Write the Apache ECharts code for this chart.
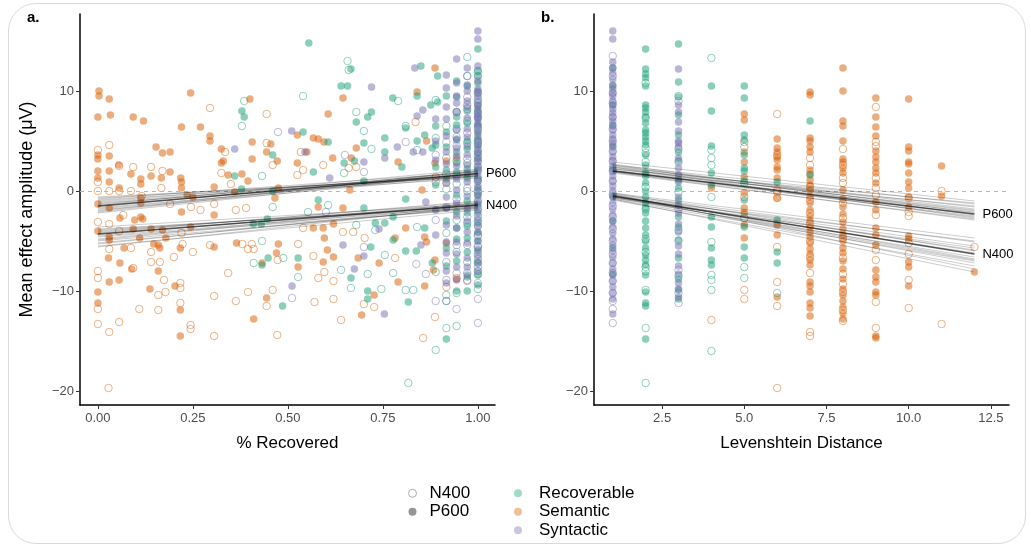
<!DOCTYPE html>
<html><head><meta charset="utf-8">
<script src="https://cdn.jsdelivr.net/npm/echarts@6/dist/echarts.min.js"></script>
<style>
html,body{margin:0;padding:0;background:#fff;}
#card{position:absolute;left:8px;top:3px;width:1018px;height:541px;border:1px solid #d6dbe2;border-radius:28px;box-sizing:border-box;}
#chart{position:absolute;left:0;top:0;width:1031px;height:548px;}
</style></head>
<body><div id="card"></div><div id="chart"></div>
<script>
// ---------------- DATA ----------------
const aXTicks = [0, 0.25, 0.5, 0.75, 1];
const bXTicks = [2.5, 5, 7.5, 10, 12.5];
const yTicks = [-20, -10, 0, 10];
const categories = ['Semantic', 'Recoverable', 'Syntactic'];

// Panel a: scattered points [% recovered, amplitude]
const a_P600_Semantic = [[0.003,10.0],[0.003,9.5],[0.03,9.2],[0.244,9.8],[0.40,9.2],[0.0,7.4],[0.033,7.6],[0.093,7.4],[0.12,7.0],[0.22,6.4],[0.27,6.4],[0.295,5.5],[0.295,5.0],[0.406,4.9],[0.153,4.4],[0.17,3.8],[0.19,3.9],[0.0,3.6],[0.03,3.5],[0.0,3.2],[0.055,2.6],[0.325,4.2],[0.33,3.0],[0.325,2.8],[0.406,3.2],[0.444,3.9],[0.455,4.7],[0.472,3.0],[0.0,2.0],[0.03,2.0],[0.087,1.7],[0.113,1.2],[0.14,1.5],[0.167,1.3],[0.19,1.9],[0.218,1.3],[0.22,0.9],[0.0,1.3],[0.03,0.9],[0.113,0.7],[0.343,1.6],[0.379,1.7],[0.395,1.0],[0.306,0.4],[0.056,0.3],[0.22,0.3],[0.235,-0.4],[0.25,-0.6],[0.36,-0.1],[0.475,0.3],[0.466,-0.7],[0.113,-0.7],
  [0.645,9.3],[0.606,7.7],[0.887,12.3],[0.84,9.9],[0.525,5.6],[0.567,5.3],[0.58,5.2],[0.595,4.9],[0.55,3.9],[0.525,2.8],[0.68,4.3],[0.618,3.3],[0.667,3.3],[0.79,2.9],[0.865,5.0],[0.887,2.8],[0.663,0.1],[0.853,0.1],
  [0.0,-1.3],[0.03,-1.7],[0.113,-1.2],[0.0,-4.0],[0.03,-4.6],[0.03,-4.9],[0.093,-3.8],[0.14,-3.8],[0.17,-3.9],[0.11,-4.7],[0.179,-4.7],[0.244,-3.6],[0.058,-2.7],[0.097,-2.9],[0.113,-2.6],[0.118,-2.8],[0.22,-2.1],[0.306,-2.4],[0.069,-5.7],[0.028,-6.7],[0.058,-7.2],[0.089,-7.8],[0.159,-8.0],[0.03,-9.1],[0.056,-8.9],[0.0,-10.1],[0.0,-11.2],[0.137,-9.8],[0.203,-9.5],[0.217,-11.9],[0.217,-14.5],[0.159,-5.4],[0.163,-5.7],[0.217,-5.7],[0.306,-5.6],[0.365,-5.2],[0.444,-10.7],[0.41,-12.8],[0.475,-5.3],[0.47,-6.2],[0.432,-7.2],[0.147,-5.3],
  [0.58,-1.6],[0.645,-1.7],[0.527,-7.6],[0.567,-3.7],[0.593,-3.7],[0.62,-3.3],[0.596,-4.7],[0.604,-5.9],[0.62,-6.6],[0.593,-7.1],[0.685,-6.7],[0.74,-7.2],[0.727,-10.4],[0.694,-12.4],[0.79,-9.1],[0.86,-9.5],[0.883,-7.9],[0.887,-6.9],[0.782,-4.7],[0.81,-3.7],[0.86,-4.6],[0.865,-5.1]];
const a_N400_Semantic = [[0.295,8.3],[0.444,7.7],[0.0,4.1],[0.03,4.6],[0.056,2.5],[0.093,2.4],[0.14,2.4],[0.17,2.0],[0.0,0.9],[0.03,0.0],[0.056,0.0],[0.087,0.0],[0.167,0.3],[0.335,3.9],[0.325,1.8],[0.444,4.8],[0.46,2.6],[0.35,0.7],[0.0,0.0],[0.115,-0.5],
  [0.534,3.9],[0.54,2.1],[0.593,2.6],[0.68,2.4],[0.66,2.3],[0.525,1.6],[0.836,6.9],
  [0.0,-3.1],[0.03,-3.3],[0.056,-4.0],[0.0,-8.0],[0.0,-8.7],[0.0,-11.8],[0.0,-13.3],[0.03,-14.1],[0.028,-19.7],[0.056,-13.1],[0.109,-11.8],[0.159,-11.9],[0.093,-7.7],[0.14,-7.1],[0.163,-7.1],[0.174,-8.9],[0.159,-10.4],[0.178,-10.1],[0.217,-9.2],[0.217,-9.7],[0.217,-11.2],[0.244,-13.4],[0.244,-13.8],[0.306,-14.5],[0.306,-10.5],[0.343,-8.2],[0.363,-11.0],[0.395,-10.1],[0.25,-6.1],[0.2,-6.6],[0.14,-6.1],[0.087,-5.7],[0.03,-5.8],[0.223,-5.3],[0.295,-5.4],[0.38,-5.3],[0.395,-5.8],[0.41,-5.8],[0.405,-5.3],[0.27,-1.9],[0.306,-1.3],[0.363,-1.9],[0.39,-1.7],[0.245,-1.6],[0.19,-1.3],[0.472,-14.4],[0.46,-9.9],[0.444,-11.5],[0.473,-6.9],[0.22,-4.2],[0.067,-2.4],
  [0.527,-5.3],[0.567,-6.5],[0.58,-8.7],[0.596,-8.1],[0.62,-9.0],[0.62,-10.8],[0.57,-11.1],[0.64,-12.9],[0.7,-11.3],[0.727,-11.6],[0.782,-6.7],[0.702,-4.7],[0.672,-4.1],[0.645,-4.1],[0.54,-3.7],[0.856,-14.7],[0.887,-12.6],[0.944,-8.7]];
const a_P600_Recoverable = [[0.379,8.0],[0.385,7.4],[0.36,1.5],[0.378,0.2],[0.46,3.6],[0.46,0.0],
  [0.555,14.8],[0.666,12.2],[0.64,10.5],[0.657,10.5],[0.85,12.5],[0.894,11.5],[0.776,9.3],[0.84,9.5],[0.876,8.6],[0.894,8.9],[0.71,7.4],[0.72,7.9],[0.68,6.9],[0.81,6.3],[0.755,5.3],[0.70,4.8],[0.648,2.8],[0.675,3.0],[0.606,4.9],[0.54,5.9],[0.567,1.9],[0.70,1.0],[0.755,3.9],[0.80,2.4],[0.84,5.0],[0.86,5.6],[0.88,4.3],
  [0.409,-3.3],[0.43,-3.3],[0.446,-2.8],[0.448,-6.7],[0.486,-11.5],[0.432,-7.4],
  [0.58,-0.9],[0.70,-1.7],[0.81,-0.8],[0.527,-6.7],[0.666,-8.7],[0.71,-10.0],[0.71,-10.8],[0.817,-11.1],[0.73,-3.2],[0.755,-3.2],[0.777,-2.6],[0.777,-4.9],[0.81,-6.0],[0.838,-6.0],[0.86,-3.7],[0.88,-7.2],[0.718,-5.6]];
const a_N400_Recoverable = [[0.385,9.0],[0.379,6.5],[0.432,1.5],
  [0.657,13.0],[0.66,12.1],[0.54,9.5],[0.68,7.9],[0.70,6.0],[0.79,9.0],[0.81,6.5],[0.72,4.2],[0.648,1.8],[0.84,4.1],
  [0.432,-5.0],[0.41,-7.2],[0.488,-6.7],[0.46,-1.6],
  [0.817,-19.2],[0.64,-7.9],[0.666,-9.7],[0.71,-8.3],[0.746,-9.8],[0.777,-8.2],[0.81,-9.9],[0.83,-9.9],[0.527,-8.6],[0.553,-2.1],[0.606,-1.4],[0.68,-3.4],[0.73,-3.9],[0.755,-6.4],[0.84,-3.6]];
const a_P600_Syntactic = [[0.36,4.2],[0.834,12.3],[0.72,10.4],[0.855,8.1],[0.84,7.5],[0.788,4.4],[0.755,3.3],[0.70,2.9],[0.61,1.3],[0.51,6.0],[0.545,3.9],[0.83,3.9],[0.855,3.9],[0.645,-5.4],[0.675,-7.8],[0.754,-12.3],[0.70,-6.5],[0.511,-9.5],[0.74,-3.8],[0.85,-5.4],[0.863,-1.1]];
const a_N400_Syntactic = [[0.474,5.9],[0.81,4.9],[0.70,1.9],[0.65,3.6],[0.511,-10.7],[0.6,-2.1],[0.70,-5.6],[0.838,-7.3],[0.863,-8.3]];

// Panel a: dense columns near full recovery (one y-list per column)
const aDenseX = [0.889, 0.917, 0.944, 0.972, 1.0];
const aDense_P600_Syntactic = [
  [7.2,5.0,3.1,-1.9,-4.4],
  [11.6,10.3,8.4,7.2,5.5,3.9,2.7,0.8,-0.6,-1.7,-3.4,-5.1,-6.2,-8.0,-9.2],
  [13.2,10.8,9.5,8.8,7.9,6.1,5.2,4.3,3.5,2.5,1.2,0.1,-1.2,-2.5,-3.7,-5.1,-6.3,-7.6,-8.9],
  [12.3,10.6,10.0,9.0,8.4,7.3,6.2,5.4,4.5,3.6,2.6,1.8,0.9,-0.5,-1.8,-3.0,-4.1,-5.2,-6.7,-7.6,-8.4],
  [16.0,15.2,12.5,11.0,10.2,9.8,9.5,9.0,8.5,8.2,7.8,7.5,7.2,6.8,6.5,6.0,5.5,5.0,4.6,4.2,3.8,3.3,2.9,2.5,2.0,1.5,1.0,0.5,0.0,-0.5,-1.0,-1.5,-2.0,-2.8,-3.5,-4.2,-5.0,-5.8,-6.5,-7.2,-8.0]];
const aDense_P600_Recoverable = [
  [6.5,4.6,2.4,0.6],
  [9.5,5.9,4.4,2.1,1.2,-3.0,-5.7,-7.5,-14.8],
  [11.0,9.4,7.4,6.6,5.1,3.9,2.8,1.9,-0.4,-2.1,-3.7,-4.8,-7.0,-10.0],
  [10.5,8.0,6.8,5.0,4.2,2.2,1.3,-1.0,-2.2,-3.5,-4.7,-6.1,-8.6,-10.0],
  [14.2,12.0,11.5,10.8,10.0,8.6,8.0,7.3,6.6,5.8,5.2,4.5,3.8,3.2,2.2,1.2,0.3,-0.4,-1.3,-2.2,-3.2,-4.1,-5.0,-6.0,-7.1,-8.4,-9.4]];
const aDense_N400_Syntactic = [
  [3.6,0.9,-2.9,-11.0],
  [4.9,1.7,-1.6,-7.1,-8.9,-11.0],
  [7.9,5.4,4.5,1.6,-0.8,-5.4,-8.2,-11.8],
  [11.5,9.4,8.2,5.8,3.2,0.3,-2.6,-5.4,-9.0],
  [11.5,9.8,8.8,7.4,6.2,5.0,4.0,3.0,2.0,1.0,0.0,-1.0,-2.5,-3.5,-4.5,-5.5,-6.3,-7.2,-8.0,-9.2,-10.8,-13.2]];
const aDense_N400_Recoverable = [
  [9.1,5.3,-8.1,-15.9],
  [6.5,3.3,0.2,-4.2,-10.4,-11.0,-13.7],
  [7.9,6.2,3.0,0.7,-2.9,-6.1,-10.2,-13.5],
  [13.4,11.5,8.6,7.0,4.8,2.8,0.0,-3.2,-7.1,-8.2],
  [12.0,9.2,7.8,6.4,4.8,3.5,2.4,1.2,-0.2,-1.8,-3.0,-4.4,-5.6,-6.8,-7.6,-8.3,-9.8]];
const aDense_P600_Semantic = [[],[3.0,-5.2],[3.3,-8.8],[],[]];
const aDense_N400_Semantic = [[1.4],[0.8,-9.6],[],[-8.9],[]];

// Panel b: Levenshtein distance columns 1..12 (one y-list per distance)
const bDist = [1,2,3,4,5,6,7,8,9,10,11,12];
const b_P600_Syntactic = [
  [16.0,15.2,12.9,12.3,11.8,11.2,10.6,10.2,9.8,9.5,9.0,8.6,8.2,7.8,7.4,7.0,6.5,6.1,5.6,5.2,4.8,4.4,3.9,3.4,3.0,2.5,2.0,1.5,1.0,0.5,0.0,-0.6,-1.2,-1.8,-2.4,-3.0,-3.6,-4.2,-4.8,-5.4,-6.0,-6.6,-7.2,-7.8,-8.4,-9.0,-9.6,-10.2,-10.8,-12.3],
  [],
  [12.2,8.6,7.9,6.9,6.0,5.0,4.8,4.4,3.3,2.3,1.6,0.9,-0.6,-1.4,-2.2,-3.3,-4.1,-5.5,-6.3,-7.5,-8.3,-9.2,-9.8,-10.6],
  [],[],[],[],[],[],[],[],[]];
const b_N400_Syntactic = [
  [13.5,11.5,9.8,8.8,7.4,6.2,5.0,4.0,3.0,2.0,1.0,-0.3,-1.5,-2.6,-3.8,-5.0,-6.3,-7.2,-8.2,-9.0,-10.2,-11.0,-11.8,-13.2],
  [],
  [9.0,2.9,-1.8,-5.0,-7.9,-10.2,-11.2],
  [],[],[],[],[],[],[],[],[]];
const b_P600_Recoverable = [
  [12.3,10.5,8.6,6.6,4.5,2.2,-0.5,-3.0,-5.7,-8.3],
  [14.2,12.2,11.7,11.3,10.5,8.6,8.3,7.9,7.4,6.8,6.1,5.8,5.4,5.0,4.6,3.6,2.6,1.8,1.5,0.8,0.0,-0.6,-1.2,-1.7,-2.2,-3.0,-3.7,-4.4,-5.0,-5.7,-6.4,-6.9,-7.4,-8.4,-10.1,-11.2,-11.5,-14.8],
  [14.7,10.9,9.4,7.6,5.6,3.9,3.0,1.1,0.3,-0.9,-2.6,-3.6,-4.9,-6.7,-8.8,-9.9,-10.8],
  [10.5,8.0,4.5,1.8,0.6,-2.6,-3.6,-5.7,-6.9,-7.4],
  [10.5,9.3,5.6,5.1,3.6,2.3,2.0,1.0,-0.9,-3.6,-5.6,-6.7],
  [0.9,-2.9,-6.1,-7.2],
  [7.0,1.6],
  [],[],[],[],[]];
const b_N400_Recoverable = [
  [],
  [10.8,7.3,4.3,3.8,2.9,0.4,-1.8,-4.8,-6.1,-7.6,-8.0,-9.9,-13.7,-19.2],
  [9.5,4.2,-0.1,-3.9,-8.5],
  [13.3,4.1,3.3,2.6,-0.6,-5.1,-8.4,-8.9,-9.9,-16.0],
  [4.4,0.8,-2.7,-7.6,-8.7],
  [-10.2],
  [],[],[],[],[],[]];
const b_P600_Semantic = [
  [],[],[],
  [0.3],
  [7.7,7.1,3.9,2.9,1.4,-0.2,-1.7,-2.2,-3.4,-4.7],
  [5.2,4.3,3.9,3.4,3.1,2.4,2.1,1.3,-0.7,-3.4,-4.4,-10.6],
  [9.9,9.6,5.3,5.0,4.4,3.9,2.1,1.7,1.1,0.6,0.1,-0.6,-1.2,-1.9,-2.5,-3.0,-3.6,-4.1,-4.6,-5.2,-5.8,-6.3,-6.9,-7.4,-9.1,-9.5,-10.1,-11.2,-11.7,-12.5],
  [12.3,10.0,7.0,6.5,5.0,3.2,2.9,2.3,1.8,0.1,-0.8,-1.6,-2.3,-3.1,-3.8,-4.4,-5.0,-5.7,-6.2,-7.0,-7.8,-8.8,-9.8,-10.4,-11.0,-11.6,-12.2,-12.8],
  [9.3,7.4,6.4,5.5,4.0,3.4,2.9,2.3,1.8,0.8,-1.1,-1.9,-3.7,-4.4,-5.4,-7.9,-8.6,-9.1,-10.1,-10.4,-14.5,-14.7],
  [9.2,4.4,4.0,2.9,2.7,1.8,0.9,0.3,-0.6,-1.6,-4.5,-4.8,-7.1,-7.6,-9.5],
  [2.5,-0.5],
  [-8.1]];
const b_N400_Semantic = [
  [],[],[],
  [-12.9],
  [4.9,-0.6,-9.9,-10.8],
  [7.7,3.6,0.1,-0.1,-0.7,-5.6,-9.1,-11.5,-19.7],
  [3.3,2.6,0.4,-0.9,-2.2,-3.3,-5.0,-6.6,-8.2,-14.1,-14.5],
  [4.2,2.6,1.3,0.8,-1.2,-2.7,-4.7,-6.7,-8.3,-9.3,-10.1,-11.9,-13.0],
  [8.4,4.9,4.5,1.3,0.3,-0.4,-2.4,-5.9,-6.9,-11.1,-13.7],
  [-0.7,-2.1,-2.5,-5.2,-6.3,-8.9,-11.7],
  [0.0,-13.3],
  [-5.6]];

// Fitted lines: [value at start of x-range, value at end]; first entry = main fit
const aLineX = [0, 1];
const a_P600_fits = [[-1.5,1.75],[-0.6,1.4],[-0.9,1.6],[-1.1,1.5],[-1.3,1.9],[-1.6,2.0],[-1.8,1.7],[-2.0,2.1],[-2.2,1.8],[-0.8,1.9],[-1.2,1.3],[-1.7,1.6],[-1.4,2.2],[-1.9,1.5],[-1.0,1.7],[-2.1,2.0],[-0.7,1.5]];
const a_N400_fits = [[-4.3,-1.4],[-3.6,-1.3],[-3.9,-1.5],[-4.1,-1.1],[-4.5,-1.6],[-4.8,-1.2],[-5.0,-1.7],[-5.3,-1.4],[-5.6,-1.5],[-3.8,-1.7],[-4.2,-1.0],[-4.6,-1.8],[-4.9,-1.3],[-5.2,-1.6],[-4.0,-1.4],[-4.4,-1.2],[-5.5,-1.9]];
const bLineX = [1, 12];
const b_P600_fits = [[2.0,-2.3],[2.9,-1.0],[2.6,-1.3],[2.4,-1.6],[2.2,-1.9],[2.0,-2.1],[1.9,-2.5],[1.8,-2.8],[2.1,-2.6],[2.3,-2.0],[2.5,-1.8],[2.7,-2.2],[1.9,-2.9],[2.2,-1.2],[2.0,-1.5],[2.4,-2.7],[2.6,-2.4]];
const b_N400_fits = [[-0.5,-6.3],[-0.2,-4.7],[-0.3,-5.1],[-0.4,-5.5],[-0.5,-5.9],[-0.6,-6.2],[-0.7,-6.6],[-0.8,-7.0],[-0.9,-7.5],[-0.4,-6.8],[-0.3,-7.8],[-0.6,-5.0],[-0.8,-8.1],[-0.5,-7.2],[-0.7,-5.7],[-0.2,-6.0],[-0.6,-6.9]];

// ---------------- STYLE / BUILD ----------------
const COLORS = {Recoverable:'#1b9e77', Semantic:'#d95f02', Syntactic:'#7570b3'};
function rgba(hex, a){const n=parseInt(hex.slice(1),16);return `rgba(${n>>16},${(n>>8)&255},${n&255},${a})`;}
const FONT = '"Liberation Sans", Arial, Helvetica, sans-serif';

function colsToPairs(xs, cols){const out=[];cols.forEach((ys,i)=>ys.forEach(y=>out.push([xs[i],y])));return out;}

function scatter(gi, data, cat, filled){
  const c = COLORS[cat];
  return {type:'scatter', xAxisIndex:gi, yAxisIndex:gi, data, symbol:'circle', symbolSize:7.5, silent:true, z:2,
    itemStyle: filled ? {color: rgba(c,0.64), borderWidth:0}
                      : {color:'rgba(255,255,255,0)', borderColor: rgba(c,0.6), borderWidth:1}};
}
function fitLines(gi, xs, fits, label){
  return fits.map((f,i)=>({type:'line', xAxisIndex:gi, yAxisIndex:gi, silent:true, symbol:'none', z: i===0?6:5,
    data:[[xs[0],f[0]],[xs[1],f[1]]],
    lineStyle: i===0 ? {color:'rgba(0,0,0,0.65)', width:1.3} : {color:'rgba(0,0,0,0.2)', width:1},
    endLabel: i===0 ? {show:true, formatter:label, distance:8, color:'#000', fontSize:13, fontFamily:FONT} : {show:false}
  }));
}
const minus = v => v<0 ? '\u2212'+Math.abs(v) : String(v);

const series = [];
const aSets = {
  N400:{Semantic:a_N400_Semantic.concat(colsToPairs(aDenseX,aDense_N400_Semantic)),
        Recoverable:a_N400_Recoverable.concat(colsToPairs(aDenseX,aDense_N400_Recoverable)),
        Syntactic:a_N400_Syntactic.concat(colsToPairs(aDenseX,aDense_N400_Syntactic))},
  P600:{Semantic:a_P600_Semantic.concat(colsToPairs(aDenseX,aDense_P600_Semantic)),
        Recoverable:a_P600_Recoverable.concat(colsToPairs(aDenseX,aDense_P600_Recoverable)),
        Syntactic:a_P600_Syntactic.concat(colsToPairs(aDenseX,aDense_P600_Syntactic))}
};
const bSets = {
  N400:{Semantic:colsToPairs(bDist,b_N400_Semantic), Recoverable:colsToPairs(bDist,b_N400_Recoverable), Syntactic:colsToPairs(bDist,b_N400_Syntactic)},
  P600:{Semantic:colsToPairs(bDist,b_P600_Semantic), Recoverable:colsToPairs(bDist,b_P600_Recoverable), Syntactic:colsToPairs(bDist,b_P600_Syntactic)}
};
[aSets,bSets].forEach((sets,gi)=>{
  series.push({type:'line', xAxisIndex:gi, yAxisIndex:gi, data:[], silent:true, z:1,
    markLine:{silent:true, symbol:['none','none'], label:{show:false}, animation:false,
      lineStyle:{type:[4,4], color:'#b8b8b8', width:1}, data:[{yAxis:0}]}});
  categories.forEach(cat=>{
    series.push(scatter(gi, sets.N400[cat], cat, false));
    series.push(scatter(gi, sets.P600[cat], cat, true));
  });
});
series.push(...fitLines(0, aLineX, a_N400_fits, 'N400'));
series.push(...fitLines(0, aLineX, a_P600_fits, 'P600'));
series.push(...fitLines(1, bLineX, b_N400_fits, 'N400'));
series.push(...fitLines(1, bLineX, b_P600_fits, 'P600'));
['N400','P600','Recoverable','Semantic','Syntactic'].forEach(n=>series.push({type:'scatter', name:n, data:[], xAxisIndex:0, yAxisIndex:0}));

function xAxis(gi, min, max, ticks, digits, name){
  return {type:'value', gridIndex:gi, min, max, name, nameLocation:'middle', nameGap:30,
    nameTextStyle:{color:'#000', fontSize:17, fontFamily:FONT},
    axisLine:{show:true, onZero:false, lineStyle:{color:'#000', width:1.5}},
    axisTick:{show:true, length:4, customValues:ticks, lineStyle:{color:'#333', width:1}},
    axisLabel:{customValues:ticks, formatter:v=>v.toFixed(digits), color:'#4d4d4d', fontSize:13, margin:7, fontFamily:FONT},
    splitLine:{show:false}};
}
function yAxis(gi, name){
  return {type:'value', gridIndex:gi, min:-21.4, max:17.7, name, nameLocation:'middle', nameGap:44,
    nameTextStyle:{color:'#000', fontSize:18, fontFamily:FONT},
    axisLine:{show:true, onZero:false, lineStyle:{color:'#000', width:1.5}},
    axisTick:{show:true, length:4, customValues:yTicks, lineStyle:{color:'#333', width:1}},
    axisLabel:{customValues:yTicks, formatter:minus, color:'#4d4d4d', fontSize:13, margin:6, fontFamily:FONT},
    splitLine:{show:false}};
}

const legendText = {color:'#000', fontSize:17, lineHeight:18.5, fontFamily:FONT};
const option = {
  animation:false,
  grid:[{left:80, top:14, width:415, height:391}, {left:594, top:14, width:415, height:391}],
  xAxis:[xAxis(0,-0.047,1.045,aXTicks,2,'% Recovered'), xAxis(1,0.43,13.05,bXTicks,1,'Levenshtein Distance')],
  yAxis:[yAxis(0,'Mean effect amplitude (\u03bcV)'), yAxis(1,'')],
  legend:[
    {orient:'vertical', left:408, top:484, itemWidth:8, itemHeight:8, itemGap:0, padding:0, selectedMode:false,
     textStyle:Object.assign({padding:[0,0,0,8]}, legendText),
     data:[{name:'N400', icon:'circle', itemStyle:{color:'#fff', borderColor:'#9a9a9a', borderWidth:1}},
           {name:'P600', icon:'circle', itemStyle:{color:'#7a7a7a', borderWidth:0}}]},
    {orient:'vertical', left:514, top:484, itemWidth:8, itemHeight:8, itemGap:0, padding:0, selectedMode:false,
     textStyle:Object.assign({padding:[0,0,0,12]}, legendText),
     data:categories.slice().sort().map(c=>({name:c, icon:'circle', itemStyle:{color:rgba(COLORS[c],0.5), borderWidth:0}}))}
  ],
  graphic:[
    {type:'text', left:27, top:10, style:{text:'a.', font:'bold 15px '+FONT, fill:'#000'}},
    {type:'text', left:541, top:10, style:{text:'b.', font:'bold 15px '+FONT, fill:'#000'}}
  ],
  series
};
const chart = echarts.init(document.getElementById('chart'), null, {renderer:'canvas'});
chart.setOption(option);
</script></body></html>
